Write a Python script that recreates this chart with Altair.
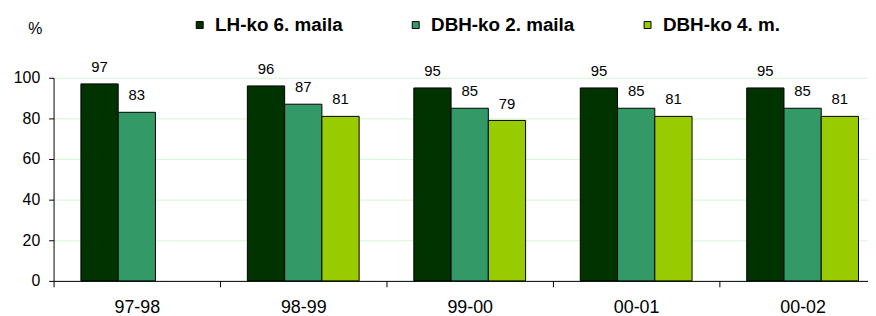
import altair as alt
import pandas as pd

periods = ["97-98", "98-99", "99-00", "00-01", "00-02"]
series = ["LH-ko 6. maila", "DBH-ko 2. maila", "DBH-ko 4. m."]
lh_ko_6 = [97, 96, 95, 95, 95]
dbh_ko_2 = [83, 87, 85, 85, 85]
dbh_ko_4 = [None, 81, 79, 81, 81]
colors = ["#003300", "#339966", "#99CC00"]

rows = []
for s, vals in zip(series, [lh_ko_6, dbh_ko_2, dbh_ko_4]):
    for p, v in zip(periods, vals):
        if v is not None:
            rows.append({"period": p, "series": s, "value": v})
df = pd.DataFrame(rows)

FONT = "Liberation Sans"

x = alt.X(
    "period:N",
    sort=periods,
    title=None,
    scale=alt.Scale(range=[0, 840], paddingInner=0, paddingOuter=0),
    axis=alt.Axis(
        labelAngle=0,
        labelFontSize=18,
        labelFont=FONT,
        labelColor="black",
        labelPadding=12,
        tickBand="extent",
        tickSize=6,
        tickColor="black",
        domainColor="black",
        grid=False,
    ),
)
xoff = alt.XOffset(
    "series:N",
    sort=series,
    scale=alt.Scale(domain=series, paddingInner=0, paddingOuter=0.734),
)
y = alt.Y(
    "value:Q",
    scale=alt.Scale(domain=[0, 100]),
    axis=alt.Axis(
        values=[0, 20, 40, 60, 80, 100],
        title="%",
        titleAngle=0,
        titleX=-19,
        titleY=-50,
        titleAlign="center",
        titleBaseline="middle",
        titleFont=FONT,
        titleFontSize=16,
        titleFontWeight="normal",
        titleColor="black",
        labelFont=FONT,
        labelFontSize=16,
        labelColor="black",
        labelPadding=9,
        tickSize=5,
        tickColor="black",
        domainColor="black",
        gridColor="#D4F7D4",
        gridWidth=1,
    ),
)

bars = alt.Chart(df).mark_bar(stroke="black", strokeWidth=1).encode(
    x=x,
    xOffset=xoff,
    y=y,
    color=alt.Color(
        "series:N",
        sort=series,
        scale=alt.Scale(domain=series, range=colors),
        legend=alt.Legend(
            title=None,
            orient="none",
            legendX=138,
            legendY=-63,
            direction="horizontal",
            symbolType="square",
            symbolSize=49,
            symbolStrokeColor="black",
            symbolStrokeWidth=1,
            labelFont=FONT,
            labelFontSize=19,
            labelFontWeight="bold",
            labelColor="black",
            labelOffset=6,
            columnPadding=64,
            padding=0,
            labelLimit=300,
        ),
    ),
)

labels = alt.Chart(df).mark_text(
    dy=-12, baseline="alphabetic", font=FONT, fontSize=15, color="black"
).encode(
    x=x,
    xOffset=xoff,
    y=y,
    text=alt.Text("value:Q"),
)

chart = (
    alt.layer(bars, labels)
    .properties(
        width=822,
        height=205,
        autosize=alt.AutoSizeParams(type="none"),
        padding={"left": 46, "top": 69, "right": 0, "bottom": 34},
    )
    .configure_view(stroke=None)
)

chart.save("out.html", embed_options={"renderer": "svg", "actions": False})
